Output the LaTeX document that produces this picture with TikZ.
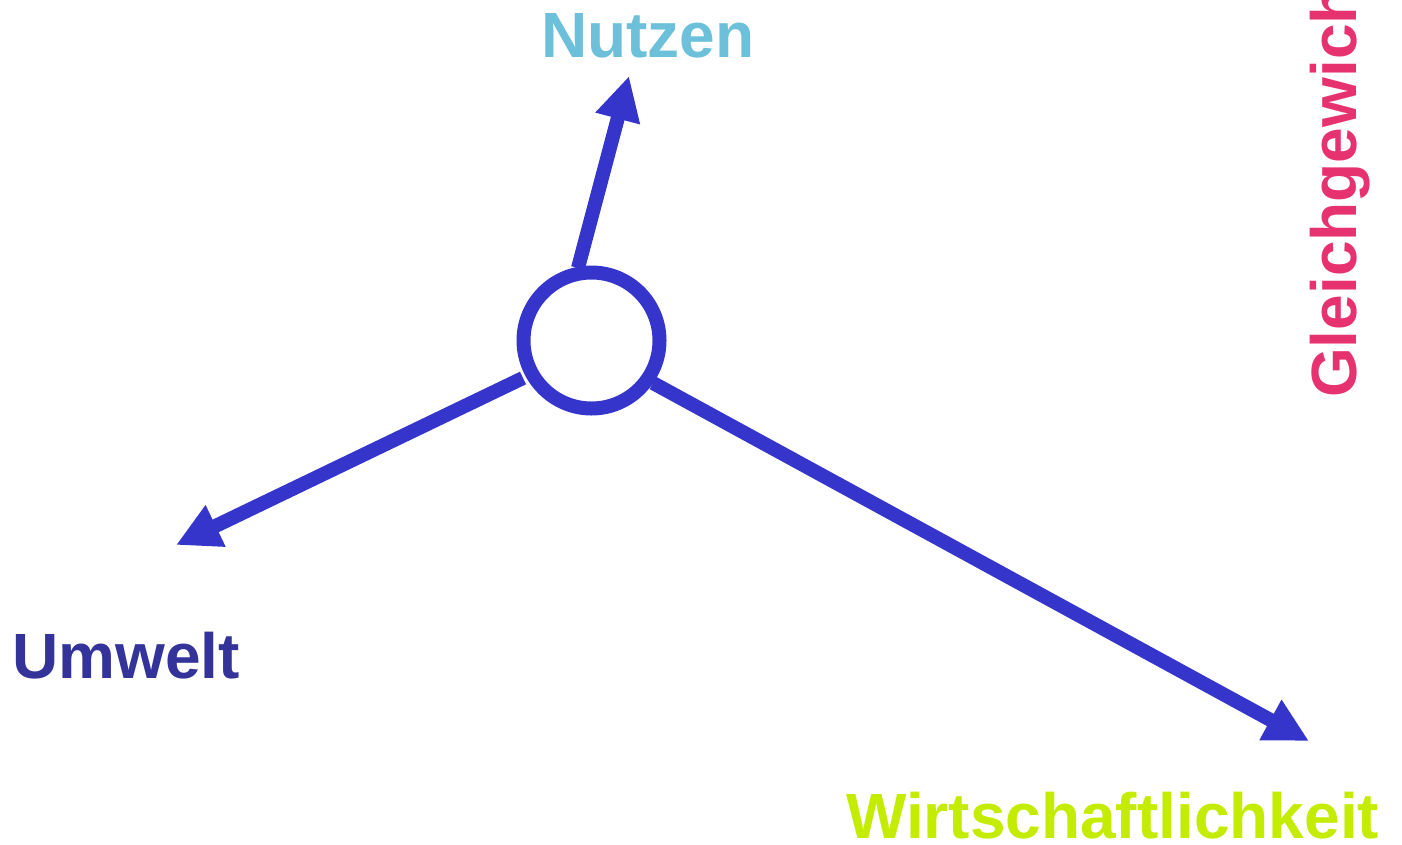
\documentclass[tikz,border=0pt]{standalone}
\usepackage{fontspec}
\setmainfont{Liberation Sans}
\usetikzlibrary{arrows.meta}
\definecolor{linkblue}{HTML}{3535CC}
\definecolor{useblue}{HTML}{6CC0D9}
\definecolor{envblue}{HTML}{333399}
\definecolor{econgreen}{HTML}{C3EC00}
\definecolor{balpink}{HTML}{E6336F}
\tikzset{
  label/.style={inner sep=0pt, anchor=base west, font=\fontsize{64}{72}\selectfont\bfseries},
  hubring/.style={circle, draw=linkblue, line width=14pt, minimum size=136pt, inner sep=0pt},
  arr/.style={draw=linkblue, line width=14pt, -{Triangle[length=44pt, width=43pt]}},
}
\begin{document}
\begin{tikzpicture}[x=1pt, y=-1pt]
  \useasboundingbox (0,0) rectangle (1402,844);
  \clip (0,0) rectangle (1402,844);

  % central ring
  \node[hubring] (hub) at (591.5,340.5) {};

  % labels
  \node[label, text=useblue] (nutzen) at (541,57) {Nutzen};
  \node[label, text=envblue] (umwelt) at (12,678) {Umwelt};
  \node[label, text=econgreen] (wirt) at (846,838) {Wirtschaftlichkeit};
  \node[label, text=balpink, rotate=90] (gleich) at (1356,398) {Gleichgewicht};

  % arrow start points on the ring and tip points
  \coordinate (sN) at (578,268);
  \coordinate (tN) at (629,76);
  \coordinate (sU) at (523,378);
  \coordinate (tU) at (176,545);
  \coordinate (sW) at (653,383);
  \coordinate (tW) at (1309,741);

  \draw[arr] (sN) -- (tN);
  \draw[arr] (sU) -- (tU);
  \draw[arr] (sW) -- (tW);
\end{tikzpicture}
\end{document}
